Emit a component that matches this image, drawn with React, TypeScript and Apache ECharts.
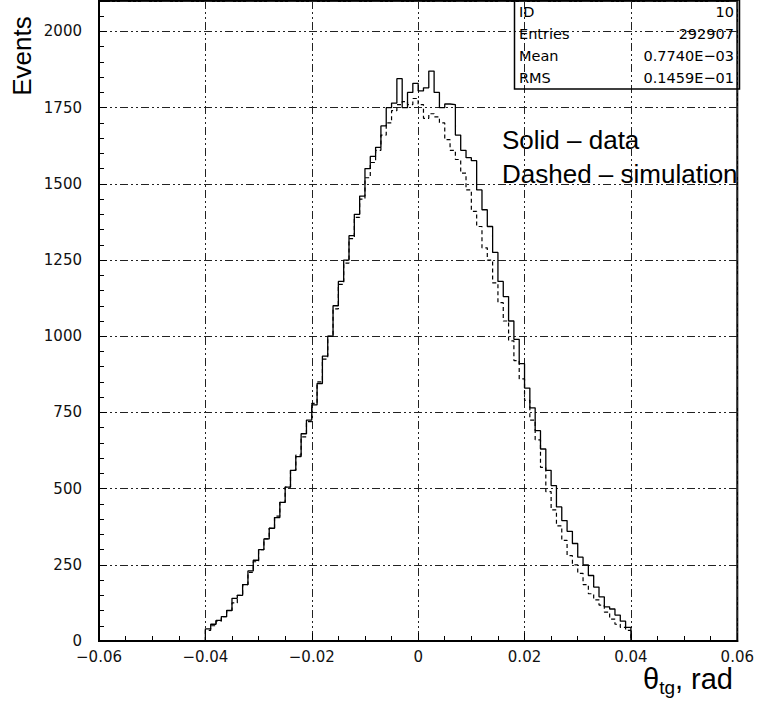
import React, { useEffect, useRef } from "react";
import * as echarts from "echarts";

// Histogram bins: 0.001 wide, from -0.04 to 0.04
const BIN_START = -0.04;
const BIN_WIDTH = 0.001;

// Solid – data
const dataCounts = [
  40, 55, 68, 80, 100, 140, 150, 185, 230, 265,
  300, 335, 370, 405, 455, 505, 560, 605, 680, 725,
  775, 845, 935, 1000, 1100, 1180, 1250, 1330, 1400, 1460,
  1550, 1590, 1620, 1690, 1750, 1765, 1845, 1750, 1800, 1830,
  1805, 1815, 1870, 1800, 1750, 1762, 1760, 1660, 1610, 1586,
  1576, 1480, 1415, 1360, 1275, 1180, 1130, 1050, 990, 910,
  830, 765, 690, 630, 560, 510, 440, 395, 360, 320,
  275, 250, 215, 177, 145, 112, 105, 85, 65, 45,
];

// Dashed – simulation
const simCounts = [
  35, 50, 65, 80, 100, 125, 150, 185, 225, 260,
  300, 335, 370, 410, 455, 505, 560, 610, 670, 720,
  780, 850, 925, 1000, 1090, 1170, 1240, 1320, 1390, 1450,
  1520, 1570, 1610, 1660, 1700, 1740, 1760, 1770, 1760, 1780,
  1760, 1715, 1730, 1720, 1700, 1645, 1610, 1580, 1535, 1480,
  1410, 1360, 1290, 1250, 1175, 1110, 1050, 985, 920, 860,
  790, 725, 660, 570, 490, 430, 378, 330, 280, 250,
  222, 185, 155, 135, 118, 95, 72, 55, 45, 35,
];

const statsLabels = ["ID", "Entries", "Mean", "RMS"];
const statsValues = ["10", "292907", "0.7740E\u221203", "0.1459E\u221201"];
const legendLines = ["Solid \u2013 data", "Dashed \u2013 simulation"];

function stepPoints(counts: number[]): number[][] {
  const pts: number[][] = [[BIN_START, 0]];
  counts.forEach((c, i) => {
    const l = BIN_START + i * BIN_WIDTH;
    const r = BIN_START + (i + 1) * BIN_WIDTH;
    pts.push([l, c]);
    pts.push([r, c]);
  });
  pts.push([BIN_START + counts.length * BIN_WIDTH, 0]);
  return pts;
}

const gridDash = [8, 3, 2, 3, 2, 3];

export default function App() {
  const ref = useRef<HTMLDivElement>(null);
  useEffect(() => {
    document.body.style.margin = "0";
    const chart = echarts.init(ref.current!, null, { renderer: "svg" });
    const statRows = [12, 34, 56, 78];
    const graphics: any[] = [
      {
        type: "rect",
        shape: { x: 514.5, y: 0, width: 225, height: 89 },
        style: { fill: "none", stroke: "#000", lineWidth: 1.5 },
        z: 10,
      },
      {
        type: "text",
        x: 22,
        y: 56,
        rotation: Math.PI / 2,
        style: {
          text: "Events",
          fontFamily: "Liberation Sans",
          fontSize: 26,
          fill: "#000",
          textAlign: "center",
          textVerticalAlign: "middle",
        },
      },
      {
        type: "text",
        x: 643,
        y: 679,
        style: {
          text: "{a|\u03b8}{s|tg}{a|, rad}",
          rich: {
            a: { fontFamily: "Liberation Sans", fontSize: 29, fill: "#000" },
            s: { fontFamily: "Liberation Sans", fontSize: 19, fill: "#000", padding: [16, 0, 0, 0] },
          },
          textVerticalAlign: "middle",
        },
      },
    ];
    statsLabels.forEach((t, i) => {
      graphics.push({
        type: "text",
        x: 519,
        y: statRows[i],
        z: 11,
        style: {
          text: t,
          fontFamily: "DejaVu Sans",
          fontSize: 14.5,
          fill: "#000",
          textAlign: "left",
          textVerticalAlign: "middle",
        },
      });
      graphics.push({
        type: "text",
        x: 734,
        y: statRows[i],
        z: 11,
        style: {
          text: statsValues[i],
          fontFamily: "DejaVu Sans",
          fontSize: 14.5,
          fill: "#000",
          textAlign: "right",
          textVerticalAlign: "middle",
        },
      });
    });
    legendLines.forEach((t, i) => {
      graphics.push({
        type: "text",
        x: 502,
        y: 140 + i * 34,
        style: {
          text: t,
          fontFamily: "Liberation Sans",
          fontSize: 26,
          fill: "#000",
          textAlign: "left",
          textVerticalAlign: "middle",
        },
      });
    });

    const fmtX = (v: number) => {
      const r = Math.round(v * 100) / 100;
      if (Math.abs(r) < 1e-9) return "0";
      return r.toFixed(2).replace("-", "\u2212");
    };

    chart.setOption({
      animation: false,
      grid: {
        left: 99,
        right: 17,
        top: 1,
        bottom: 63,
        show: true,
        borderColor: "#000",
        borderWidth: 2,
        backgroundColor: "transparent",
      },
      xAxis: {
        type: "value",
        min: -0.06,
        max: 0.06,
        interval: 0.02,
        axisLine: { show: true, onZero: false, lineStyle: { color: "#000", width: 2 } },
        axisTick: { show: true, inside: true, length: 8, lineStyle: { color: "#000" } },
        minorTick: { show: true, splitNumber: 4, length: 5, lineStyle: { color: "#000" } },
        splitLine: { show: true, lineStyle: { color: "#222", width: 1, type: gridDash } },
        axisLabel: {
          formatter: fmtX,
          fontFamily: "DejaVu Sans",
          fontSize: 15,
          color: "#111",
          margin: 8,
        },
      },
      yAxis: {
        type: "value",
        min: 0,
        max: 2100,
        interval: 250,
        axisLine: { show: true, onZero: false, lineStyle: { color: "#000", width: 2 } },
        axisTick: { show: true, inside: true, length: 8, lineStyle: { color: "#000" } },
        minorTick: { show: true, splitNumber: 5, length: 5, lineStyle: { color: "#000" } },
        splitLine: { show: true, lineStyle: { color: "#222", width: 1, type: gridDash } },
        axisLabel: {
          formatter: (v: number) => (v % 250 === 0 ? String(v) : ""),
          showMaxLabel: false,
          fontFamily: "DejaVu Sans",
          fontSize: 15,
          color: "#111",
          margin: 17,
        },
      },
      series: [
        {
          type: "line",
          name: "simulation",
          data: stepPoints(simCounts),
          showSymbol: false,
          lineStyle: { color: "#000", width: 1.2, type: [4, 3] },
          z: 3,
        },
        {
          type: "line",
          name: "data",
          data: stepPoints(dataCounts),
          showSymbol: false,
          lineStyle: { color: "#000", width: 1.3 },
          z: 4,
        },
      ],
      graphic: graphics,
    });
    return () => chart.dispose();
  }, []);
  return <div ref={ref} style={{ width: 757, height: 704 }} />;
}
